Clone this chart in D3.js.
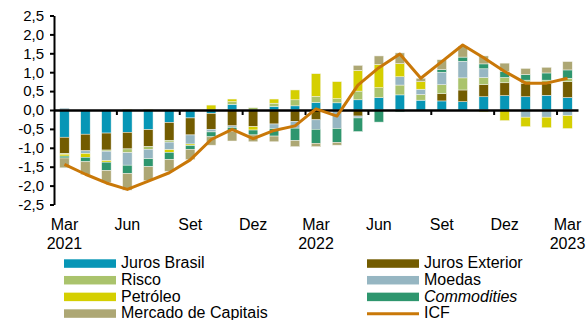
<!DOCTYPE html>
<html><head><meta charset="utf-8">
<script src="https://cdn.jsdelivr.net/npm/d3@7"></script>
<style>
html,body{margin:0;padding:0;background:#fff;}
svg{display:block;font-family:"Liberation Sans",Arial,sans-serif;}
</style></head>
<body>
<svg id="chart" width="588" height="320"></svg>
<script>
const categories = ["2021-03","2021-04","2021-05","2021-06","2021-07","2021-08","2021-09","2021-10","2021-11","2021-12","2022-01","2022-02","2022-03","2022-04","2022-05","2022-06","2022-07","2022-08","2022-09","2022-10","2022-11","2022-12","2023-01","2023-02","2023-03"];
const jurosBrasil     = [-0.72,-0.64,-0.61,-0.59,-0.52,-0.33,-0.21,-0.09,0.15,0,0.09,0.11,0.20,0.19,0.27,0.33,0.40,0.26,0.24,0.22,0.35,0.38,0.35,0.39,0.33];
const jurosExterior   = [-0.43,-0.44,-0.45,-0.44,-0.45,-0.47,-0.45,-0.42,-0.42,-0.44,-0.37,-0.30,-0.26,0,-0.16,0,0,0,0.19,0.31,0.32,0.34,0.36,0.32,0.42];
const risco           = [-0.02,0,-0.03,-0.10,-0.07,-0.05,0,0,0.07,0.06,0.09,0.16,0.16,0.11,0.23,0.26,0.26,0.15,0.24,0.32,0.19,0.14,0.08,0.08,0.09];
const moedas          = [0.05,-0.07,-0.25,-0.33,-0.25,-0.20,-0.24,-0.07,-0.04,0,-0.12,-0.18,-0.25,-0.49,-0.05,0,0.22,0.14,0.33,0.44,0.23,0,-0.19,-0.19,-0.15];
const petroleo        = [-0.05,-0.10,-0.04,0.02,0.02,-0.07,-0.04,0.13,0.07,-0.09,0.11,0.26,0.60,0.45,0.55,0.62,0.35,0.20,0,0,-0.05,-0.28,-0.25,-0.28,-0.34];
const commodities     = [-0.05,-0.12,-0.22,-0.22,-0.21,-0.19,-0.10,-0.13,-0.10,-0.13,-0.20,-0.33,-0.37,-0.37,-0.36,-0.32,-0.05,0,0.07,0.11,0.13,0.16,0.15,0.19,0.22];
const mercadoCapitais = [-0.26,-0.34,-0.32,-0.44,-0.37,-0.31,-0.27,-0.22,-0.26,-0.18,-0.15,-0.16,-0.09,-0.07,0.13,0.22,0.28,0.09,0.26,0.29,0.21,0.22,0.16,0.15,0.22];
const icf             = [-1.44,-1.70,-1.93,-2.10,-1.88,-1.66,-1.32,-0.78,-0.51,-0.76,-0.54,-0.42,0.03,-0.16,0.66,1.12,1.48,0.84,1.28,1.72,1.38,1.02,0.71,0.71,0.84];
const tickMonths = ["Mar","Jun","Set","Dez","Mar","Jun","Set","Dez","Mar"];
const tickYears  = ["2021","","","","2022","","","","2023"];
const yTicks = [-2.5,-2,-1.5,-1,-0.5,0,0.5,1,1.5,2,2.5];

const seriesNames = ["Juros Brasil","Juros Exterior","Risco","Moedas","Petróleo","Commodities","Mercado de Capitais"];
const seriesValues = [jurosBrasil,jurosExterior,risco,moedas,petroleo,commodities,mercadoCapitais];
const colors = {"Juros Brasil":"#0796B6","Juros Exterior":"#735C00","Risco":"#AAC36C","Moedas":"#96B6C2","Petróleo":"#D5CF00","Commodities":"#2E966E","Mercado de Capitais":"#ADA774"};
const icfColor = "#C97808";

const table = categories.map((c,i)=>{
  const row = {cat:c};
  seriesNames.forEach((s,j)=>row[s]=seriesValues[j][i]);
  return row;
});

const svg = d3.select("#chart");
const x = d3.scaleBand().domain(categories).range([54,578]).paddingInner(0.55).paddingOuter(0.275);
const y = d3.scaleLinear().domain([-2.5,2.5]).range([204.5,15.5]);

const stack = d3.stack().keys(seriesNames).offset(d3.stackOffsetDiverging);
const layers = stack(table);

svg.append("g").selectAll("g").data(layers).join("g")
  .attr("fill",d=>colors[d.key])
  .selectAll("rect").data(d=>d).join("rect")
  .attr("x",d=>x(d.data.cat))
  .attr("width",x.bandwidth())
  .attr("y",d=>y(Math.max(d[0],d[1])))
  .attr("height",d=>Math.abs(y(d[0])-y(d[1])))
  .attr("stroke","#f4f4ee").attr("stroke-width",0.5);

// zero axis
const zeroAxis = svg.append("g").attr("transform",`translate(0,${y(0)})`)
  .call(d3.axisBottom(x).tickValues([]).tickSizeOuter(0));
zeroAxis.select(".domain").attr("stroke","#000").attr("stroke-width",2.5);
const step = x.step(), gap = step - x.bandwidth();
svg.append("g").selectAll("line")
  .data(categories.filter((c,i)=>i>0 && i%3===0))
  .join("line")
  .attr("x1",d=>x(d)-gap/2).attr("x2",d=>x(d)-gap/2)
  .attr("y1",y(0)).attr("y2",y(0)+5)
  .attr("stroke","#000").attr("stroke-width",2);

// y axis
const yAxis = svg.append("g").attr("transform","translate(54,0)")
  .call(d3.axisLeft(y).tickValues(yTicks).tickSize(4).tickSizeOuter(0).tickPadding(6)
    .tickFormat(d=>d3.format(".1f")(d).replace(".",",").replace("−","-")));
yAxis.select(".domain").attr("stroke","#000").attr("stroke-width",2);
yAxis.selectAll(".tick line").attr("stroke","#000").attr("stroke-width",2);
yAxis.selectAll("text").attr("font-size",15).attr("fill","#000").attr("font-family","Liberation Sans, Arial, sans-serif");

// x labels
const labelCats = categories.filter((c,i)=>i%3===0);
const xl = svg.append("g").attr("font-size",16).attr("text-anchor","middle").attr("fill","#000");
labelCats.forEach((c,k)=>{
  const t = xl.append("text").attr("x",x(c)+x.bandwidth()/2).attr("y",229.5);
  t.append("tspan").attr("x",x(c)+x.bandwidth()/2).text(tickMonths[k]);
  if(tickYears[k]) t.append("tspan").attr("x",x(c)+x.bandwidth()/2).attr("dy",19).text(tickYears[k]);
});

// ICF line
svg.append("path").datum(icf)
  .attr("fill","none").attr("stroke",icfColor).attr("stroke-width",3).attr("stroke-linejoin","round")
  .attr("d",d3.line().x((d,i)=>x(categories[i])+x.bandwidth()/2).y(d=>y(d)));

// legend
const legendItems = [
  {name:"Juros Brasil",col:0,row:0},{name:"Juros Exterior",col:1,row:0},
  {name:"Risco",col:0,row:1},{name:"Moedas",col:1,row:1},
  {name:"Petróleo",col:0,row:2},{name:"Commodities",col:1,row:2,italic:true},
  {name:"Mercado de Capitais",col:0,row:3},{name:"ICF",col:1,row:3,line:true}
];
const colX = [64,367];
const lg = svg.append("g").attr("font-size",16).attr("fill","#000");
legendItems.forEach(it=>{
  const bx = colX[it.col], base = 268.3 + it.row*16.67;
  if(it.line){
    lg.append("line").attr("x1",bx).attr("x2",bx+52).attr("y1",base-4.5).attr("y2",base-4.5)
      .attr("stroke",icfColor).attr("stroke-width",3);
  } else {
    lg.append("rect").attr("x",bx).attr("y",base-9).attr("width",52).attr("height",8.5).attr("fill",colors[it.name]);
  }
  lg.append("text").attr("x",bx+57).attr("y",base).attr("font-style",it.italic?"italic":"normal").text(it.name);
});
</script>
</body></html>
